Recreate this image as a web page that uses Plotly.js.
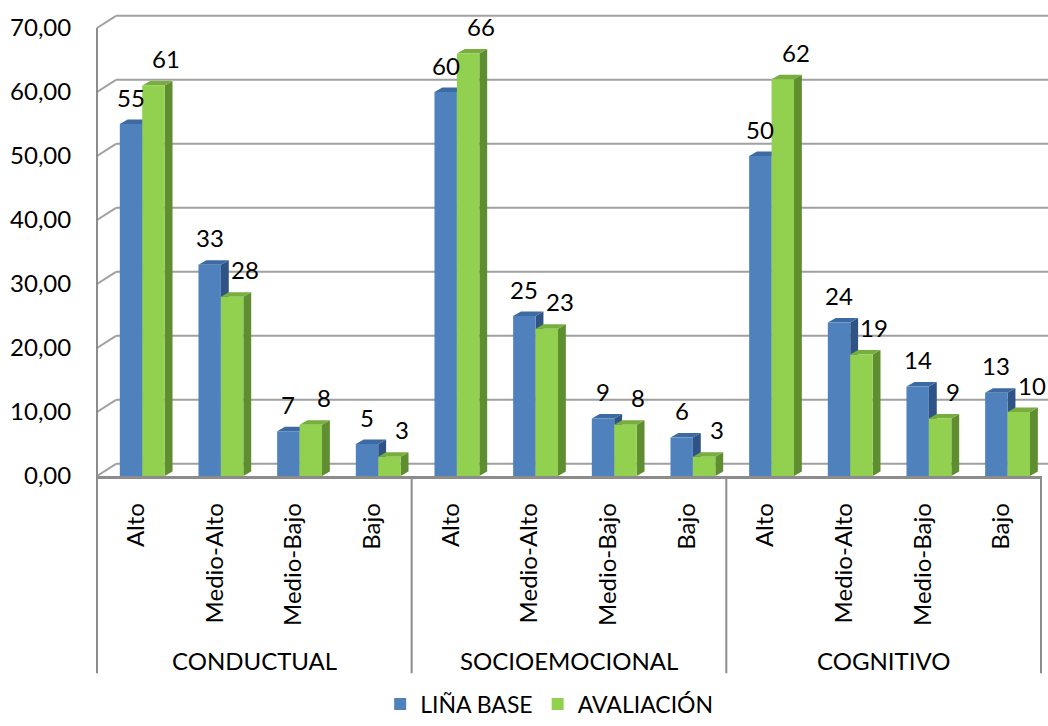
<!DOCTYPE html>
<html><head><meta charset="utf-8">
<script src="https://cdn.plot.ly/plotly-3.0.1.min.js"></script>
<style>html,body{margin:0;padding:0;background:#fff}#chart{width:1048px;height:726px}</style>
</head><body><div id="chart"></div>
<script>
// ---- data ----
const groups = ['CONDUCTUAL', 'SOCIOEMOCIONAL', 'COGNITIVO'];
const groupSizes = [4, 4, 4];
const levels = ['Alto', 'Medio-Alto', 'Medio-Bajo', 'Bajo'];
const seriesNames = ['LIÑA BASE', 'AVALIACIÓN'];
const lineaBase = [55, 33, 7, 5, 60, 25, 9, 6, 50, 24, 14, 13];
const avaliacion = [61, 28, 8, 3, 66, 23, 8, 3, 62, 19, 9, 10];
const yTickVals = [0, 10, 20, 30, 40, 50, 60, 70];
const yTickText = ['0,00', '10,00', '20,00', '30,00', '40,00', '50,00', '60,00', '70,00'];

// ---- style / geometry ----
const FONT = 'Lato, "Open Sans", sans-serif';
const frontCol = ['#4F81BD', '#92D050'];
const topCol = ['#3D6AA2', '#77AE3E'];
const sideCol = ['#2F5384', '#5F8E30'];
const BW = 0.285, OFF = [-0.21, 0.075];
const DX = 0.1, DY = 0.7;
const XMIN = -0.5, XMAX = 11.5;
const PLOT_W = 944;
const BACK_DXP = 19 / PLOT_W, BACK_DY = 1.9;
const GRID = '#A0A0A0';

const categories = [];
const catIdx = [];
groups.forEach((g, gi) => levels.slice(0, groupSizes[gi]).forEach(l => { categories.push(l); catIdx.push(categories.length - 1); }));
const series = [lineaBase, avaliacion];

const traces = series.map((vals, s) => ({
  type: 'bar', name: seriesNames[s], x: catIdx, y: vals,
  offset: OFF[s], width: BW,
  marker: {color: frontCol[s], line: {width: 0}},
  hoverinfo: 'skip'
}));

const shapes = [];
// back wall gridlines + left wall diagonals
yTickVals.forEach(v => {
  shapes.push({type: 'line', layer: 'below', xref: 'paper', yref: 'y', x0: 0, y0: v, x1: BACK_DXP, y1: v + BACK_DY, line: {color: GRID, width: 2}});
  shapes.push({type: 'line', layer: 'below', xref: 'paper', yref: 'y', x0: BACK_DXP, y0: v + BACK_DY, x1: 1.01, y1: v + BACK_DY, line: {color: GRID, width: 2}});
});
// left wall front edge
shapes.push({type: 'line', layer: 'below', xref: 'paper', yref: 'y', x0: 0, y0: 0, x1: 0, y1: yTickVals[yTickVals.length - 1], line: {color: '#8C8C8C', width: 2}});
// 3D faces
series.forEach((vals, s) => {
  vals.forEach((v, i) => {
    const x0 = i + OFF[s], x1 = x0 + BW;
    shapes.push({type: 'path', layer: 'below', xref: 'x', yref: 'y',
      path: `M${x1},0 L${x1},${v} L${x1 + DX},${v + DY} L${x1 + DX},${DY} Z`,
      fillcolor: sideCol[s], line: {width: 0}});
    shapes.push({type: 'path', layer: 'below', xref: 'x', yref: 'y',
      path: `M${x0},${v} L${x1},${v} L${x1 + DX},${v + DY} L${x0 + DX},${v + DY} Z`,
      fillcolor: topCol[s], line: {width: 0}});
  });
});
// group dividers below the axis
const bounds = [XMIN];
groupSizes.forEach(n => bounds.push(bounds[bounds.length - 1] + n));
bounds.forEach(b => {
  const px = (b - XMIN) / (XMAX - XMIN);
  shapes.push({type: 'line', xref: 'paper', yref: 'paper', x0: px, x1: px, y0: 0, y1: -0.425, line: {color: '#8C8C8C', width: 2}});
});

const annotations = [];
series.forEach((vals, s) => {
  vals.forEach((v, i) => {
    annotations.push({xref: 'x', yref: 'y', x: i + OFF[s] + BW / 2 + DX / 2, y: v + DY,
      text: String(v), showarrow: false, yanchor: 'bottom', yshift: 6, xshift: s === 0 ? -4 : 9,
      font: {family: FONT, size: 24, color: '#000'}});
  });
});
groups.forEach((g, gi) => {
  annotations.push({xref: 'x', yref: 'paper', x: (bounds[gi] + bounds[gi + 1]) / 2, y: -0.398,
    text: g, showarrow: false, yanchor: 'middle', font: {family: FONT, size: 24, color: '#000'}});
});

const layout = {
  width: 1048, height: 726,
  margin: {l: 97, r: 7, t: 12, b: 250, autoexpand: false},
  paper_bgcolor: '#fff', plot_bgcolor: 'rgba(0,0,0,0)',
  font: {family: FONT, size: 24, color: '#000'},
  barmode: 'overlay',
  xaxis: {range: [XMIN, XMAX], tickvals: catIdx, ticktext: categories, tickangle: -90,
    ticks: 'outside', ticklen: 15, tickcolor: 'rgba(0,0,0,0)', showgrid: false, zeroline: false,
    showline: true, linecolor: '#8C8C8C', linewidth: 2.5, tickfont: {family: FONT, size: 24},
    fixedrange: true, automargin: false},
  yaxis: {range: [0, 72.5], tickvals: yTickVals, ticktext: yTickText, ticks: 'outside', ticklen: 20,
    tickcolor: 'rgba(0,0,0,0)', showgrid: false, zeroline: false, showline: false,
    tickfont: {family: FONT, size: 24}, fixedrange: true, automargin: false},
  showlegend: true,
  legend: {orientation: 'h', x: 0.479, xanchor: 'center', y: -0.538, yanchor: 'bottom',
    font: {family: FONT, size: 23}, itemwidth: 30, traceorder: 'normal'},
  shapes: shapes, annotations: annotations
};

Plotly.newPlot('chart', traces, layout, {displayModeBar: false, staticPlot: true});
</script></body></html>
